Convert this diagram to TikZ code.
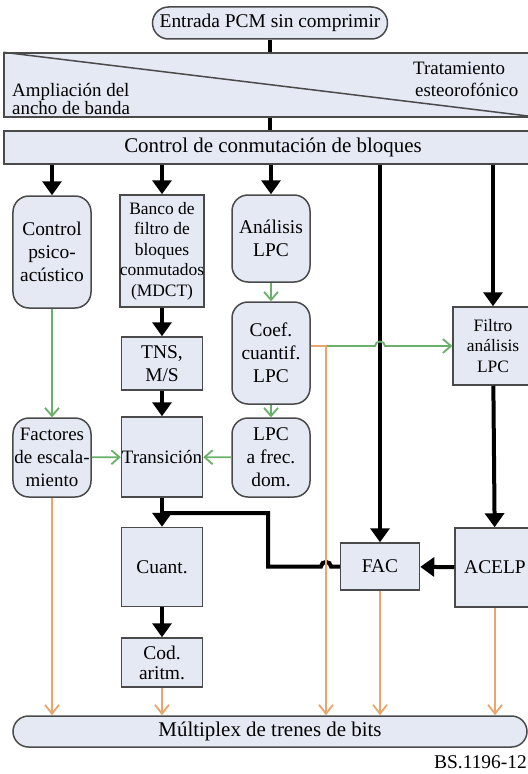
\documentclass[tikz,border=0pt]{standalone}
\usepackage{fontspec}
\setmainfont{Liberation Serif}
\usetikzlibrary{arrows.meta,calc}
\definecolor{boxfill}{HTML}{E4E9F4}
\definecolor{boxline}{HTML}{4A4A4A}
\definecolor{grn}{HTML}{6AB06A}
\definecolor{orng}{HTML}{E8A66C}
\tikzset{
  lbl/.style={font=\fontsize{19.5}{23}\selectfont, inner sep=0pt, align=center},
  small/.style={font=\fontsize{17.5}{20.5}\selectfont},
  wide/.style={font=\fontsize{21}{23}\selectfont},
  blk/.style={lbl, draw=boxline, fill=boxfill, line width=1.5bp, rectangle},
  rnd/.style={blk, rounded corners=16bp},
  bigarr/.style={line width=4bp, -{Triangle[length=14bp,width=19bp]}},
  bigline/.style={line width=4bp},
  garr/.style={draw=grn, line width=1.8bp, -{Straight Barb[length=8bp,width=14bp]}},
  oarr/.style={draw=orng, line width=1.8bp, -{Straight Barb[length=9bp,width=14bp]}},
}
\begin{document}
\begin{tikzpicture}[x=1bp,y=-1bp]
\path[use as bounding box] (0,0) rectangle (528,774);
\clip (0,0) rectangle (528,774);
% top
\node[blk, rounded corners=16bp, minimum width=235bp, minimum height=32bp] (entrada) at (270,23) {Entrada PCM sin comprimir};
\node[blk, minimum width=538bp, minimum height=64bp] (band) at (273,85) {};
\draw[boxline, line width=1.5bp] (band.north west) -- (528,116);
\node[lbl, anchor=west, align=left, font=\fontsize{19}{17}\selectfont] (ampl) at (12,99) {Ampliación del\\ancho de banda};
\node[lbl, anchor=west, align=left, font=\fontsize{19}{22}\selectfont] (trat) at (413,79) {Tratamiento\\\hspace{2pt}esteorofónico};
\node[blk, wide, minimum width=538bp, minimum height=33bp] (ctrl) at (273,147.5) {Control de conmutación de bloques};
% columns
\node[rnd, minimum width=78bp, minimum height=112bp] (psico) at (52,252) {Control\\psico-\\acústico};
\node[blk, small, minimum width=81bp, minimum height=112bp] (banco) at (162,251) {Banco de\\filtro de\\bloques\\conmutados\\(MDCT)};
\node[rnd, minimum width=78bp, minimum height=87bp] (analisis) at (271,238.5) {Análisis\\LPC};
\node[rnd, minimum width=78bp, minimum height=102bp] (coef) at (271,353) {Coef.\\cuantif.\\LPC};
\node[blk, minimum width=81bp, minimum height=53bp] (tns) at (162,363.5) {TNS,\\M/S};
\node[blk, small, minimum width=80bp, minimum height=78bp] (filtro) at (493,346) {Filtro\\análisis\\LPC};
\node[rnd, font=\fontsize{19}{23}\selectfont, minimum width=78bp, minimum height=79bp] (factores) at (52,457.5) {Factores\\de escala-\\miento};
\node[blk, font=\fontsize{19}{23}\selectfont, minimum width=81bp, minimum height=80bp] (trans) at (162,457) {Transición};
\node[rnd, minimum width=78bp, minimum height=79bp] (lpcf) at (271,457.5) {LPC\\a frec.\\dom.};
\node[blk, minimum width=81bp, minimum height=79bp] (cuant) at (162,567) {Cuant.};
\node[blk, minimum width=79bp, minimum height=47bp] (fac) at (380,566.5) {FAC};
\node[blk, minimum width=80bp, minimum height=79bp] (acelp) at (495,567.5) {ACELP};
\node[blk, font=\fontsize{19.5}{20}\selectfont, minimum width=81bp, minimum height=49bp] (cod) at (162,662.5) {Cod.\\aritm.};
\node[blk, wide, rounded corners=15.5bp, minimum width=514bp, minimum height=31bp] (mux) at (270,731.5) {Múltiplex de trenes de bits};
\node[lbl, anchor=east] (bs) at (527,762) {BS.1196-12};
% black connectors
\draw[bigline] (entrada.south) -- (entrada.south |- band.north);
\draw[bigline] (entrada.south |- band.south) -- (entrada.south |- ctrl.north);
\draw[bigarr] (ctrl.south -| psico.north) -- (psico.north);
\draw[bigarr] (ctrl.south -| banco.north) -- (banco.north);
\draw[bigarr] (ctrl.south -| analisis.north) -- (analisis.north);
\draw[bigarr] (ctrl.south -| fac.north) -- (fac.north);
\draw[bigarr] (ctrl.south -| filtro.north) -- (filtro.north);
\draw[bigarr] (banco) -- (tns);
\draw[bigarr] (tns) -- (trans);
\draw[bigarr] (trans) -- (cuant);
\draw[bigarr] (cuant) -- (cod);
\draw[bigarr] (filtro) -- (acelp);
\draw[bigarr] (acelp) -- (fac);
\coordinate (oj) at (326,346);
\coordinate (bend) at (268,513);
\draw[bigline, line join=miter] (fac.west) -- ($(oj |- fac.west)+(5,0)$)
  .. controls ($(oj |- fac.west)+(5,-6)$) and ($(oj |- fac.west)+(-5,-6)$) .. ($(oj |- fac.west)+(-5,0)$)
  -- (bend |- fac.west) -- (bend) -- (trans.south |- bend);
% green connectors
\draw[garr] (analisis) -- (coef);
\draw[garr] (coef) -- (lpcf);
\draw[garr] (psico) -- (factores);
\draw[garr] (factores) -- (trans);
\draw[garr] (lpcf) -- (trans);
\draw[garr] (coef.east |- filtro.west) -- ($(fac.north |- filtro.west)+(-5,0)$)
  .. controls ($(fac.north |- filtro.west)+(-5,-6)$) and ($(fac.north |- filtro.west)+(5,-6)$) .. ($(fac.north |- filtro.west)+(5,0)$)
  -- (filtro.west);
% orange connectors
\draw[oarr] (coef.east |- oj) -- (oj) -- (oj |- mux.north);
\draw[oarr] (factores) -- (factores.south |- mux.north);
\draw[oarr] (cod) -- (cod.south |- mux.north);
\draw[oarr] (fac) -- (fac.south |- mux.north);
\draw[oarr] (acelp) -- (acelp.south |- mux.north);
\end{tikzpicture}
\end{document}
